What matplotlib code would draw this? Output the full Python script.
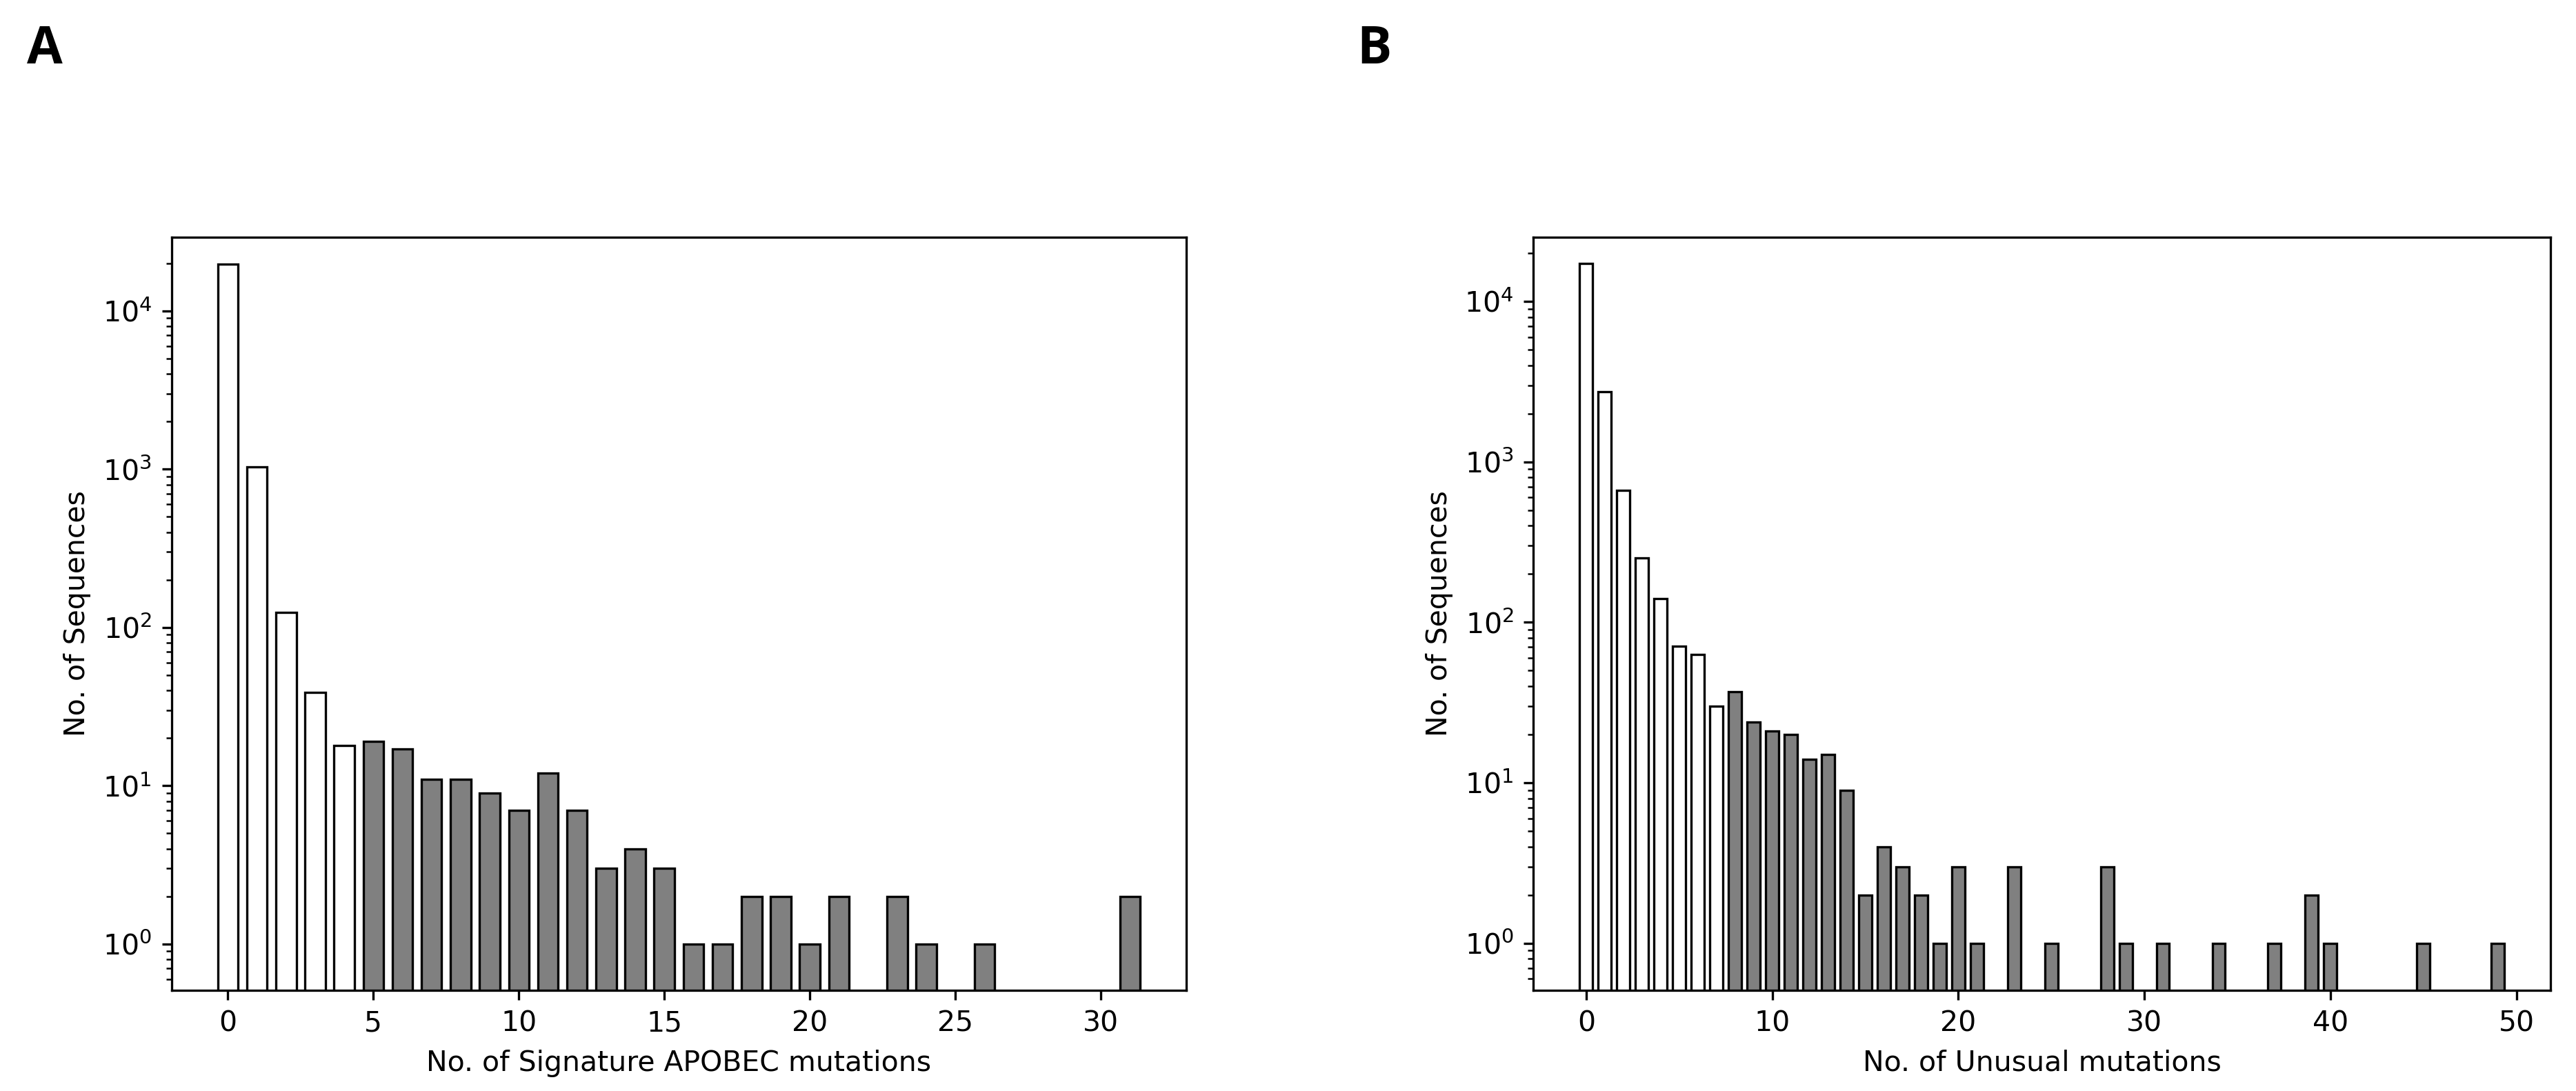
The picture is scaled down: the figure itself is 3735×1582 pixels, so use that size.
import numpy as np
import matplotlib
matplotlib.use("Agg")
import matplotlib.pyplot as plt

# panel A: signature APOBEC mutations per sequence
apobec_n = [0, 1, 2, 3, 4, 5, 6, 7, 8, 9, 10, 11, 12, 13, 14, 15, 16, 17,
            18, 19, 20, 21, 23, 24, 26, 31]
apobec_count = [19800, 1030, 124, 39, 18, 19, 17, 11, 11, 9, 7, 12, 7, 3, 4, 3,
                1, 1, 2, 2, 1, 2, 2, 1, 1, 2]
apobec_cut = 5          # bars from here on are shaded

# panel B: unusual mutations per sequence
unusual_n = [0, 1, 2, 3, 4, 5, 6, 7, 8, 9, 10, 11, 12, 13, 14, 15, 16, 17,
             18, 19, 20, 21, 23, 25, 28, 29, 31, 34, 37, 39, 40, 45, 49]
unusual_count = [17250, 2750, 665, 251, 140, 71, 63, 30, 37, 24, 21, 20, 14, 15,
                 9, 2, 4, 3, 2, 1, 3, 1, 3, 1, 3, 1, 1, 1, 1, 2, 1, 1, 1]
unusual_cut = 8

plt.rcParams["font.size"] = 9.85
plt.rcParams["xtick.major.size"] = 3.45
plt.rcParams["ytick.major.size"] = 3.45
plt.rcParams["ytick.minor.size"] = 1.97
plt.rcParams["axes.linewidth"] = 0.79

fig = plt.figure(figsize=(3735 / 300, 1582 / 300), dpi=300)
axA = fig.add_axes([0.0666, 0.0923, 0.3939, 0.6903])
axB = fig.add_axes([0.5953, 0.0923, 0.3948, 0.6903])


def draw(ax, x, y, cut, xlabel, ylim):
    x = np.asarray(x)
    cols = np.where(x < cut, "white", "gray")
    ax.bar(x, y, width=0.7, color=cols, edgecolor="black", linewidth=0.8)
    ax.set_yscale("log")
    ax.set_ylim(*ylim)
    ax.set_xlabel(xlabel)
    ax.set_ylabel("No. of Sequences")


draw(axA, apobec_n, apobec_count, apobec_cut,
     "No. of Signature APOBEC mutations", (0.51, 29200))
draw(axB, unusual_n, unusual_count, unusual_cut,
     "No. of Unusual mutations", (0.508, 25200))

for lab, xx in (("A", 0.0104), ("B", 0.5266)):
    fig.text(xx, 0.9418, lab, fontsize=18, fontweight="bold",
             family=["Open Sans", "DejaVu Sans"], va="baseline")

fig.savefig("out.png", dpi=300)
